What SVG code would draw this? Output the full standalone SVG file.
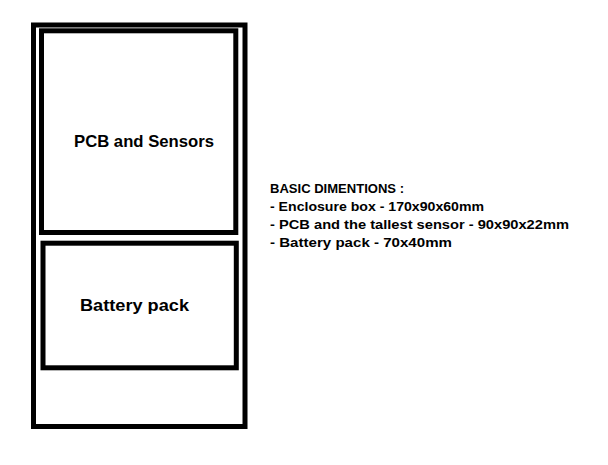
<svg xmlns="http://www.w3.org/2000/svg" width="608" height="465" viewBox="0 0 608 465">
<style>
.box{fill:none;stroke:#000;stroke-width:5}
.lbl{font-family:"Liberation Sans","DejaVu Sans",sans-serif;font-weight:bold;fill:#000}
.big{font-size:17px}
.small{font-size:13px}
</style>
<rect x="0" y="0" width="608" height="465" fill="#fff"/>
<g id="enclosure">
<rect class="box" x="33.5" y="25" width="211.5" height="401.5"/>
</g>
<g id="pcb">
<rect class="box" x="41.5" y="30.8" width="194.3" height="201.7"/>
<text class="lbl big" x="74" y="147" textLength="140" lengthAdjust="spacingAndGlyphs">PCB and Sensors</text>
</g>
<g id="battery">
<rect class="box" x="43" y="243.2" width="193.3" height="124.6"/>
<text class="lbl big" x="80" y="311" textLength="109" lengthAdjust="spacingAndGlyphs">Battery pack</text>
</g>
<g id="dimensions">
<text class="lbl small" x="270" y="193" textLength="134" lengthAdjust="spacingAndGlyphs">BASIC DIMENTIONS :</text>
<text class="lbl small" x="270" y="211" textLength="214" lengthAdjust="spacingAndGlyphs">- Enclosure box - 170x90x60mm</text>
<text class="lbl small" x="270" y="228.5" textLength="299" lengthAdjust="spacingAndGlyphs">- PCB and the tallest sensor - 90x90x22mm</text>
<text class="lbl small" x="270" y="246.5" textLength="182" lengthAdjust="spacingAndGlyphs">- Battery pack - 70x40mm</text>
</g>
<g id="connectors"></g>
</svg>
